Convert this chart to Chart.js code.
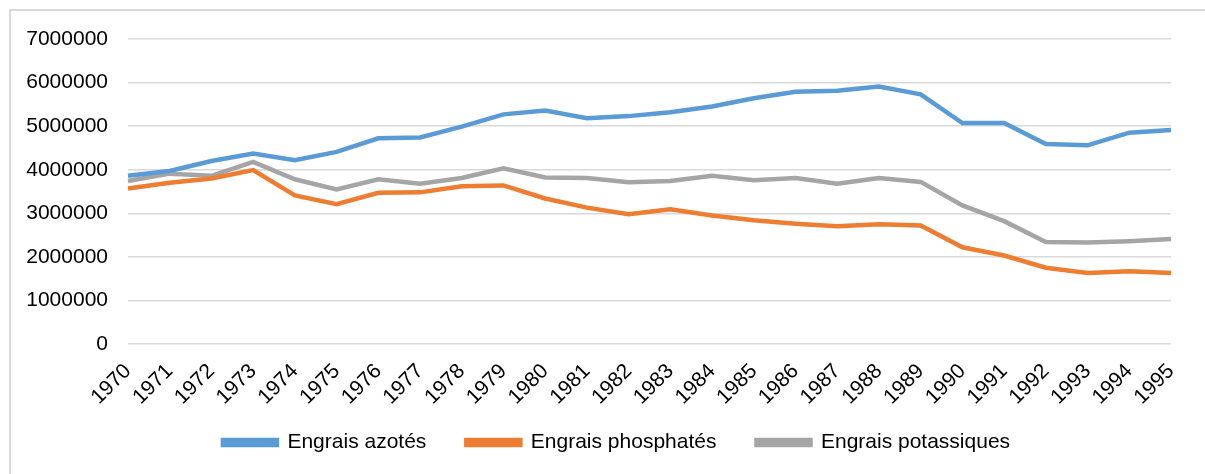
<!DOCTYPE html>
<html>
<head>
<meta charset="utf-8">
<script src="https://cdn.jsdelivr.net/npm/chart.js@4"></script>
<style>
  html, body { margin: 0; padding: 0; background: #fff; overflow: hidden; }
  #frame { position: absolute; left: 9px; top: 9px; width: 1300px; height: 600px;
           border-left: 2px solid #d9d9d9; border-top: 2px solid #d9d9d9; box-sizing: border-box; }
  #wrap { position: absolute; left: 0; top: 0; width: 1205px; height: 474px; }
</style>
</head>
<body>
<div id="frame"></div>
<div id="wrap"><canvas id="chart"></canvas></div>
<script>
// Années
const years = ['1970','1971','1972','1973','1974','1975','1976','1977','1978','1979',
               '1980','1981','1982','1983','1984','1985','1986','1987','1988','1989',
               '1990','1991','1992','1993','1994','1995'];

// Séries (tonnes)
const azotes = [3860000, 3970000, 4200000, 4370000, 4220000, 4410000, 4720000, 4740000, 4990000, 5270000,
                5360000, 5180000, 5230000, 5320000, 5450000, 5640000, 5790000, 5810000, 5910000, 5730000,
                5070000, 5070000, 4590000, 4560000, 4850000, 4910000];
const phosphates = [3570000, 3700000, 3800000, 3990000, 3410000, 3210000, 3470000, 3480000, 3620000, 3640000,
                    3340000, 3130000, 2980000, 3090000, 2950000, 2840000, 2760000, 2700000, 2750000, 2720000,
                    2220000, 2030000, 1750000, 1630000, 1670000, 1630000];
const potassiques = [3740000, 3910000, 3860000, 4180000, 3780000, 3550000, 3780000, 3680000, 3810000, 4030000,
                     3820000, 3810000, 3710000, 3740000, 3860000, 3760000, 3810000, 3680000, 3810000, 3720000,
                     3180000, 2820000, 2340000, 2330000, 2360000, 2410000];

const yTicks = [0, 1000000, 2000000, 3000000, 4000000, 5000000, 6000000, 7000000];

const font = { family: "'Liberation Sans', Arial, sans-serif", size: 21 };

function serie(label, data, color) {
    return {
        label: label,
        data: data,
        borderColor: color,
        backgroundColor: color,
        borderWidth: 4.5,
        pointRadius: 0,
        tension: 0,
        fill: false
    };
}

// décale la légende vers la droite pour la centrer comme dans l'original,
// et agrandit la zone de dessin des années pour qu'elles ne soient pas coupées
const ajustements = {
    id: 'ajustements',
    afterLayout(chart) {
        if (chart.legend) chart.legend.left += 62;
        chart.scales.x.bottom = chart.height;
    }
};

new Chart(document.getElementById('chart'), {
    type: 'line',
    data: {
        labels: years,
        datasets: [
            serie('Engrais azotés', azotes, '#5B9BD5'),
            serie('Engrais phosphatés', phosphates, '#ED7D31'),
            serie('Engrais potassiques', potassiques, '#A5A5A5')
        ]
    },
    plugins: [ajustements],
    options: {
        responsive: true,
        maintainAspectRatio: false,
        animation: false,
        layout: { padding: { left: 0, right: 34, top: 39, bottom: 11 } },
        plugins: {
            legend: {
                position: 'bottom',
                labels: {
                    boxWidth: 54,
                    boxHeight: 5,
                    padding: 40,
                    color: '#000',
                    font: font
                }
            },
            tooltip: { enabled: false }
        },
        scales: {
            x: {
                offset: false,
                grid: { display: false },
                border: { display: false },
                ticks: {
                    color: '#000',
                    font: font,
                    minRotation: 45,
                    maxRotation: 45,
                    autoSkip: false,
                    padding: 7
                },
                afterFit: s => { s.height = 48; }
            },
            y: {
                min: 0,
                max: 7000000,
                afterBuildTicks: s => { s.ticks = yTicks.map(v => ({ value: v })); },
                grid: { color: '#d9d9d9', lineWidth: 1.5, drawTicks: false },
                border: { display: false },
                ticks: {
                    color: '#000',
                    font: font,
                    padding: 20,
                    callback: v => String(v)
                },
                afterFit: s => { s.width = 128; }
            }
        }
    }
});
</script>
</body>
</html>
